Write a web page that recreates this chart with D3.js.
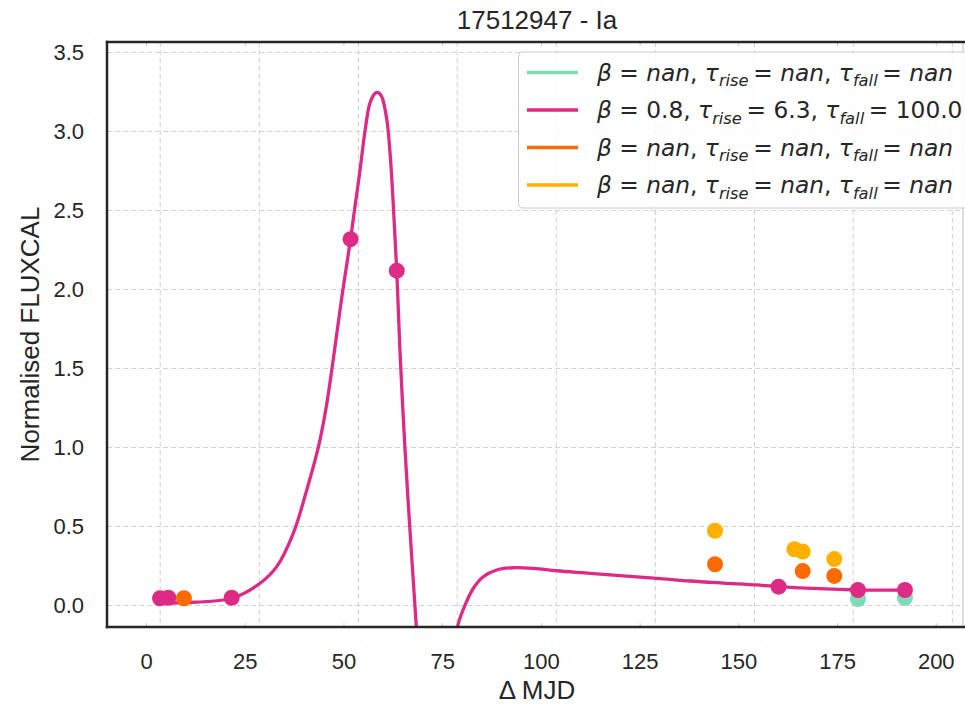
<!DOCTYPE html>
<html>
<head>
<meta charset="utf-8">
<script src="https://cdn.jsdelivr.net/npm/d3@7"></script>
<style>
  html, body { margin: 0; padding: 0; background: #ffffff; }
  svg { display: block; }
</style>
</head>
<body>
<svg id="chart" width="965" height="704"></svg>
<script>
// ---- light curve observations, one list per passband ----
const bandColors = ["#7ddcb5", "#dd2a85", "#ff6a00", "#ffb000"];

const greenX  = [180.3, 192.2];
const greenY  = [0.041, 0.049];

const pinkX   = [3.55, 5.65, 21.7, 51.8, 63.5, 160.2, 180.3, 192.2];
const pinkY   = [0.046, 0.049, 0.049, 2.318, 2.119, 0.119, 0.098, 0.098];

const orangeX = [9.6, 144.1, 166.3, 174.3];
const orangeY = [0.046, 0.261, 0.218, 0.187];

const yellowX = [144.1, 164.2, 166.3, 174.3];
const yellowY = [0.473, 0.356, 0.341, 0.294];

// ---- fitted model for the pink band, sampled in two pieces ----
const fitRiseX = [2.8, 3.55, 9.45, 21.7, 28.9, 33.1, 37.3, 40.7, 43.6, 45.6, 47.4, 49.6,
                  51.8, 52.8, 54.2, 55.5, 56.7, 58.0, 58.8, 59.7, 61.0, 61.8, 62.6, 63.5,
                  64.3, 65.6, 66.9, 68.4, 68.8];
const fitRiseY = [0.010, 0.014, 0.018, 0.046, 0.141, 0.246, 0.457, 0.731, 0.997, 1.250,
                  1.554, 1.953, 2.318, 2.503, 2.756, 3.009, 3.178, 3.241, 3.246, 3.220,
                  3.073, 2.864, 2.547, 2.119, 1.617, 0.984, 0.457, -0.113, -0.282];

const fitTailX = [78.3, 79.1, 80.8, 82.9, 85.4, 88.8, 93.0, 98.1, 104.0, 112.5, 120.9, 129.4,
                  137.8, 146.2, 154.7, 160.2, 180.3, 192.2];
const fitTailY = [-0.218, -0.113, 0.003, 0.109, 0.182, 0.225, 0.239, 0.235, 0.220, 0.204,
                  0.187, 0.172, 0.155, 0.142, 0.130, 0.119, 0.098, 0.098];

// ---- axes ----
const xTicks = [0, 25, 50, 75, 100, 125, 150, 175, 200];
const yTicks = [0.0, 0.5, 1.0, 1.5, 2.0, 2.5, 3.0, 3.5];
const xGrid  = [3.6, 28.7, 53.8, 78.8, 103.9, 129.0, 154.1, 179.1, 204.2];
const xDomain = [-9.88, 206.9];
const yDomain = [-0.136, 3.566];

// ---- legend entries ----
const legendBeta = ["nan", "0.8", "nan", "nan"];
const legendRise = ["nan", "6.3", "nan", "nan"];
const legendFall = ["nan", "100.0", "nan", "nan"];

const titleText = "17512947 - Ia";
const xLabel = "Δ MJD";
const yLabel = "Normalised FLUXCAL";

// ---- layout ----
const plot = { left: 107, right: 963, top: 42, bottom: 627 };
const svg = d3.select("#chart");
const sans = "Arial, 'Liberation Sans', Helvetica, sans-serif";
const math = "'DejaVu Sans', sans-serif";

const x = d3.scaleLinear().domain(xDomain).range([plot.left, plot.right]);
const y = d3.scaleLinear().domain(yDomain).range([plot.bottom, plot.top]);

svg.append("defs").append("clipPath").attr("id", "plotClip")
  .append("rect")
  .attr("x", plot.left).attr("y", plot.top)
  .attr("width", plot.right - plot.left).attr("height", plot.bottom - plot.top);

// grid
const grid = svg.append("g").attr("stroke", "#d2d2d2").attr("stroke-width", 1)
  .attr("stroke-dasharray", "5,3");
grid.selectAll("line.gx").data(xGrid).join("line").attr("class", "gx")
  .attr("x1", d => x(d)).attr("x2", d => x(d))
  .attr("y1", plot.top).attr("y2", plot.bottom);
grid.selectAll("line.gy").data(yTicks).join("line").attr("class", "gy")
  .attr("x1", plot.left).attr("x2", plot.right)
  .attr("y1", d => y(d)).attr("y2", d => y(d));

// fitted curve
const line = d3.line().x(d => x(d[0])).y(d => y(d[1])).curve(d3.curveCatmullRom.alpha(0.5));
const curveG = svg.append("g").attr("clip-path", "url(#plotClip)");
[[fitRiseX, fitRiseY], [fitTailX, fitTailY]].forEach(([xs, ys]) => {
  curveG.append("path")
    .datum(xs.map((v, i) => [v, ys[i]]))
    .attr("d", line)
    .attr("fill", "none")
    .attr("stroke", bandColors[1])
    .attr("stroke-width", 3.3)
    .attr("stroke-linejoin", "round");
});

// observations
const bands = [[greenX, greenY], [pinkX, pinkY], [orangeX, orangeY], [yellowX, yellowY]];
bands.forEach(([xs, ys], b) => {
  svg.append("g").selectAll("circle")
    .data(xs.map((v, i) => [v, ys[i]]))
    .join("circle")
    .attr("cx", d => x(d[0]))
    .attr("cy", d => y(d[1]))
    .attr("r", 8)
    .attr("fill", bandColors[b]);
});

// axes (ticks drawn inward, light)
const xAxis = d3.axisBottom(x).tickValues(xTicks).tickFormat(d3.format("d"))
  .tickSizeInner(-4).tickSizeOuter(0).tickPadding(26);
const gx = svg.append("g").attr("transform", `translate(0,${plot.bottom})`).call(xAxis);
gx.select(".domain").remove();
gx.selectAll(".tick line").attr("stroke", "#c8c8c8");
gx.selectAll(".tick text").attr("font-family", sans).attr("font-size", 22).attr("fill", "#262626");

const xTop = d3.axisTop(x).tickValues(xTicks).tickFormat("").tickSizeInner(-4).tickSizeOuter(0);
const gxt = svg.append("g").attr("transform", `translate(0,${plot.top})`).call(xTop);
gxt.select(".domain").remove();
gxt.selectAll(".tick line").attr("stroke", "#c8c8c8");

const yAxis = d3.axisLeft(y).tickValues(yTicks).tickFormat(d3.format(".1f"))
  .tickSize(0).tickPadding(23);
const gy = svg.append("g").attr("transform", `translate(${plot.left},0)`).call(yAxis);
gy.select(".domain").remove();
gy.selectAll(".tick text").attr("font-family", sans).attr("font-size", 22).attr("fill", "#262626");

// spines
svg.append("line").attr("x1", plot.right).attr("x2", plot.right)
  .attr("y1", plot.top).attr("y2", plot.bottom)
  .attr("stroke", "#bdbdbd").attr("stroke-width", 1);
const spine = svg.append("g").attr("stroke", "#262626").attr("stroke-width", 2.5)
  .attr("stroke-linecap", "square");
spine.append("line").attr("x1", plot.left).attr("x2", 965).attr("y1", plot.top).attr("y2", plot.top);
spine.append("line").attr("x1", plot.left).attr("x2", 965).attr("y1", plot.bottom).attr("y2", plot.bottom);
spine.append("line").attr("x1", plot.left).attr("x2", plot.left).attr("y1", plot.top).attr("y2", plot.bottom);

// labels
svg.append("text").attr("x", 537).attr("y", 29).attr("text-anchor", "middle")
  .attr("font-family", sans).attr("font-size", 26).attr("fill", "#262626").text(titleText);
svg.append("text").attr("x", 537).attr("y", 699).attr("text-anchor", "middle")
  .attr("font-family", sans).attr("font-size", 26).attr("fill", "#262626").text(xLabel);
svg.append("text")
  .attr("transform", `translate(39,${(plot.top + plot.bottom) / 2}) rotate(-90)`)
  .attr("text-anchor", "middle")
  .attr("font-family", sans).attr("font-size", 26).attr("fill", "#262626").text(yLabel);

// legend
const leg = svg.append("g");
leg.append("rect").attr("x", 518.5).attr("y", 52).attr("width", 470).attr("height", 156)
  .attr("rx", 4).attr("fill", "#ffffff").attr("fill-opacity", 0.85)
  .attr("stroke", "#cccccc").attr("stroke-width", 1);

const rowY = [72.5, 110, 147.5, 185];
const legFont = 23.3;

function addValue(t, v) {
  const isNan = v === "nan";
  t.append("tspan").attr("font-style", isNan ? "italic" : "normal").text(v);
}
function addSymbol(t, sym, sub) {
  t.append("tspan").attr("font-style", "italic").text(sym);
  if (sub) {
    t.append("tspan").attr("font-style", "italic").attr("font-size", legFont * 0.7)
      .attr("dy", 5.5).text(sub);
    t.append("tspan").attr("dy", -5.5).text("\u2009");
  }
}

rowY.forEach((ry, i) => {
  leg.append("line").attr("x1", 527).attr("x2", 578).attr("y1", ry).attr("y2", ry)
    .attr("stroke", bandColors[i]).attr("stroke-width", 3.3);
  const t = leg.append("text").attr("x", 597).attr("y", ry + 8)
    .attr("font-family", math).attr("font-size", legFont).attr("fill", "#262626")
    .attr("xml:space", "preserve");
  addSymbol(t, "β", null);
  t.append("tspan").text(" = ");
  addValue(t, legendBeta[i]);
  t.append("tspan").text(", ");
  addSymbol(t, "τ", "rise");
  t.append("tspan").text("= ");
  addValue(t, legendRise[i]);
  t.append("tspan").text(", ");
  addSymbol(t, "τ", "fall");
  t.append("tspan").text("= ");
  addValue(t, legendFall[i]);
});
</script>
</body>
</html>
